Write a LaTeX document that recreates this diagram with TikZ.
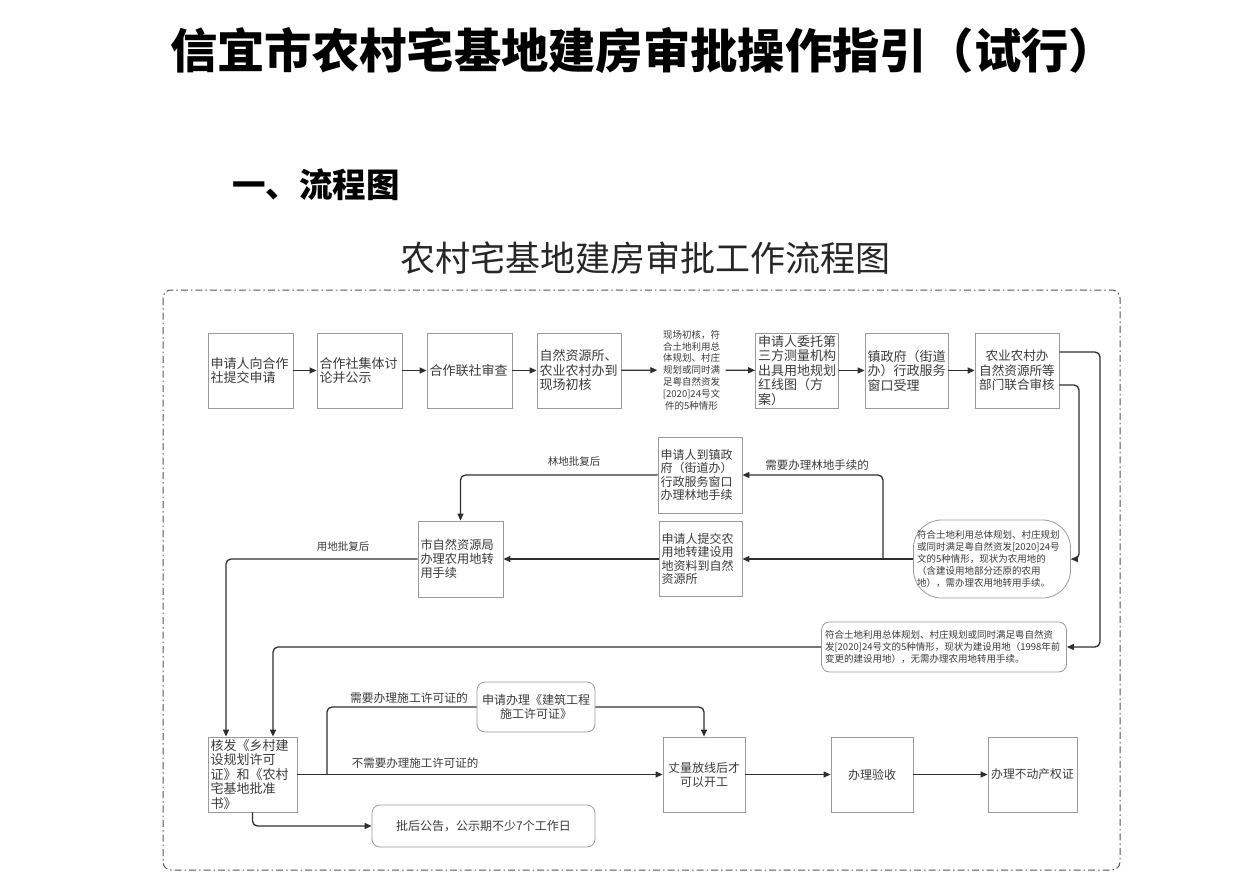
\documentclass[tikz,border=0pt]{standalone}
\usepackage{fontspec}
\setmainfont{Noto Sans CJK SC}
\usetikzlibrary{arrows.meta,calc}
\definecolor{boxc}{HTML}{9A9A9A}
\definecolor{linec}{HTML}{2E2E2E}
\definecolor{txtc}{HTML}{3A3A3A}
\definecolor{framec}{HTML}{555555}
\begin{document}
\begin{tikzpicture}[x=1pt,y=-1pt,
  box/.style={draw=boxc, line width=0.8pt, inner xsep=2.5pt, inner ysep=0pt, minimum height=75pt, text=txtc, font=\fontsize{13}{14.5}\selectfont, align=left},
  rbox/.style={box, rounded corners=8pt},
  conn/.style={draw=linec, line width=1.3pt, rounded corners=5pt},
  arr/.style={conn, -{Triangle[length=7pt,width=6pt]}},
  lab/.style={text=txtc, font=\fontsize{11.5}{13}\selectfont, inner sep=0pt},
  small/.style={text=txtc, font=\fontsize{9.5}{11.8}\selectfont, inner sep=0pt}
]
\useasboundingbox (0,0) rectangle (1254,878);

% titles
\node[font=\bfseries\fontsize{47.3}{50}\selectfont, text=black, anchor=west, inner sep=0pt] (title) at (170,50) {信宜市农村宅基地建房审批操作指引（试行）};
\node[font=\bfseries\fontsize{33.5}{36}\selectfont, text=black, anchor=west, inner sep=0pt] (sub) at (232,185) {一、流程图};
\node[font=\fontsize{35}{38}\selectfont, text=black!85] (ctitle) at (645,258) {农村宅基地建房审批工作流程图};

% frame
\draw[draw=framec, line width=1pt, rounded corners=8pt, dash pattern=on 7pt off 3pt on 1.5pt off 3pt] (163,290) rectangle (1120,870);

% top row
\node[box, text width=80pt] (b1) at (250.5,370.5) {申请人向合作\\社提交申请};
\node[box, text width=80pt] (b2) at (359.5,370.5) {合作社集体讨\\论并公示};
\node[box, text width=80pt] (b3) at (469.5,370.5) {合作联社审查};
\node[box, text width=79pt] (b4) at (579,370.5) {自然资源所、\\农业农村办到\\现场初核};
\node[small, align=center, text width=58pt, inner xsep=5pt] (lbl) at (691.5,370) {现场初核，符\\合土地利用总\\体规划、村庄\\规划或同时满\\足粤自然资发\\{[2020]24号文}\\件的5种情形};
\node[box, text width=78pt] (b5) at (797,370.5) {申请人委托第\\三方测量机构\\出具用地规划\\红线图（方\\案）};
\node[box, text width=78pt] (b6) at (906.5,370.5) {镇政府（街道\\办）行政服务\\窗口受理};
\node[box, text width=79pt, align=center, font=\fontsize{12.6}{14.5}\selectfont] (b7) at (1017,370.5) {农业农村办\\自然资源所等\\部门联合审核};

% middle
\node[box, text width=79pt, minimum height=76pt, font=\fontsize{12}{13.5}\selectfont] (m1) at (700,475) {申请人到镇政\\府（街道办）\\行政服务窗口\\办理林地手续};
\node[box, text width=78pt, font=\fontsize{12}{13.5}\selectfont] (m2) at (700.5,559) {申请人提交农\\用地转建设用\\地资料到自然\\资源所};
\node[box, text width=80pt, minimum height=76pt, font=\fontsize{12.2}{14}\selectfont] (p) at (460.5,559) {市自然资源局\\办理农用地转\\用手续};
\node[box, rounded corners=28pt, minimum width=157pt, text width=150pt, minimum height=78pt, font=\fontsize{9.5}{11.8}\selectfont] (r1) at (992,559) {符合土地利用总体规划、村庄规划\\或同时满足粤自然资发{[2020]}24号\\文的5种情形，现状为农用地的\\（含建设用地部分还原的农用\\地），需办理农用地转用手续。};
\node[rbox, minimum width=245pt, text width=238pt, minimum height=50pt, font=\fontsize{9.5}{12}\selectfont] (L) at (944,647) {符合土地利用总体规划、村庄规划或同时满足粤自然资\\发{[2020]}24号文的5种情形，现状为建设用地（1998年前\\变更的建设用地），无需办理农用地转用手续。};

% bottom
\node[box, text width=84pt] (k) at (252.5,774.5) {核发《乡村建\\设规划许可\\证》和《农村\\宅基地批准\\书》};
\node[rbox, minimum width=118pt, text width=113pt, minimum height=50pt, align=center, font=\fontsize{12}{14}\selectfont] (q) at (536,707) {申请办理《建筑工程\\施工许可证》};
\node[box, text width=77pt, align=center, font=\fontsize{12}{14}\selectfont] (s) at (704,774.5) {丈量放线后才\\可以开工};
\node[box, text width=77pt, align=center, font=\fontsize{12}{14}\selectfont] (t) at (872,774.5) {办理验收};
\node[box, text width=84pt, align=center, font=\fontsize{11.8}{14}\selectfont] (u) at (1032.5,774.5) {办理不动产权证};
\node[rbox, minimum width=223pt, text width=218pt, minimum height=42pt, align=center, font=\fontsize{12}{14}\selectfont] (n) at (483.5,826) {批后公告，公示期不少7个工作日};

% labels
\node[lab, font=\fontsize{10.5}{12}\selectfont] (l1) at (574,462) {林地批复后};
\node[lab] (l2) at (817,465) {需要办理林地手续的};
\node[lab, font=\fontsize{10.5}{12}\selectfont] (l3) at (343,547) {用地批复后};
\node[lab, font=\fontsize{11.8}{13}\selectfont] (l4) at (409,698) {需要办理施工许可证的};
\node[lab] (l5) at (415,763) {不需要办理施工许可证的};

% connectors
\draw[arr] (b1) -- (b2);
\draw[arr] (b2) -- (b3);
\draw[arr] (b3) -- (b4);
\draw[arr] (b4) -- (lbl);
\draw[arr] (lbl) -- (b5);
\draw[arr] (b5) -- (b6);
\draw[arr] (b6) -- (b7);
\draw[arr] (b7.east |- 0,352) -- (1100,352) -- (1100,647) -- (L.east);
\draw[arr] (b7.east |- 0,385) -- (1079,385) -- (1079,559) -- (r1.east);
\draw[arr] (r1.west) -- (m2.east);
\coordinate (jn) at (883,559);
\draw[arr] (jn) -- (jn |- m1.east) -- (m1.east);
\draw[arr] (m1.west) -| (p.north);
\draw[arr] (m2.west) -- (p.east);
\draw[arr] (p.west) -| ([xshift=-26.5pt]k.north);
\draw[arr] (L.west) -| ([xshift=20.5pt]k.north);
\draw[arr] (k.east) -- (s.west);
\coordinate (jk) at (327,774.5);
\draw[conn] (jk) |- (q.west);
\draw[arr] (q.east) -| (s.north);
\draw[arr] (s) -- (t);
\draw[arr] (t) -- (u);
\draw[arr] (k.south) |- (n.west);
\end{tikzpicture}
\end{document}
